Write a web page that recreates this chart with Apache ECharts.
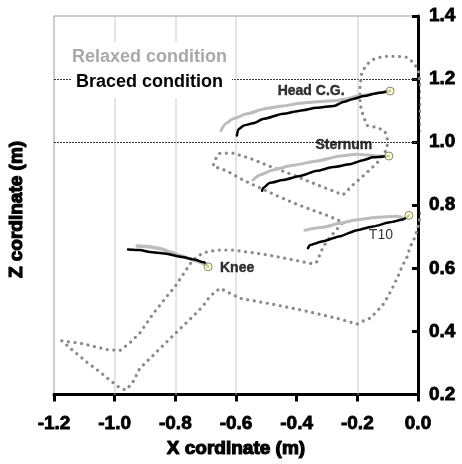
<!DOCTYPE html>
<html>
<head>
<meta charset="utf-8">
<script src="https://cdn.jsdelivr.net/npm/echarts@6/dist/echarts.min.js"></script>
<style>
html,body{margin:0;padding:0;background:#fff;}
#chart{width:462px;height:464px;}
</style>
</head>
<body>
<div id="chart"></div>
<script>
// ---- data ----
const xTicks = { min: -1.2, max: 0.0, interval: 0.2 };
const yTicks = { min: 0.2, max: 1.4, interval: 0.2 };
const hGridValues = [1.2, 1.0];
const vGridValues = [-1.0, -0.8, -0.6, -0.2];

const bodyOutline = [
[-1.174,0.370],[-1.105,0.361],[-1.025,0.342],[-0.983,0.339],[-0.950,0.364],[-0.917,0.395],[-0.874,0.455],[-0.828,0.511],[-0.801,0.542],[-0.775,0.580],[-0.742,0.627],[-0.709,0.649],[-0.663,0.658],[-0.610,0.658],[-0.498,0.643],[-0.412,0.627],[-0.346,0.614],[-0.333,0.621],[-0.313,0.668],[-0.290,0.699],[-0.247,0.746],
[-0.300,0.768],[-0.356,0.787],[-0.412,0.808],[-0.465,0.830],[-0.521,0.855],[-0.577,0.880],[-0.630,0.909],[-0.676,0.924],[-0.663,0.956],[-0.653,0.965],[-0.610,0.965],[-0.554,0.949],[-0.498,0.927],[-0.412,0.896],[-0.333,0.865],[-0.247,0.833],
[-0.214,0.865],[-0.181,0.893],[-0.135,0.934],[-0.105,0.974],[-0.099,1.003],[-0.109,1.034],[-0.132,1.046],[-0.168,1.053],[-0.181,1.084],[-0.191,1.121],[-0.191,1.178],[-0.185,1.222],[-0.168,1.247],[-0.148,1.262],[-0.115,1.272],[-0.069,1.272],[-0.036,1.269],[-0.016,1.253],[0.000,1.231],[0.007,1.190],[0.013,1.146],[0.007,1.096],[0.010,1.053],[0.016,1.012],[0.030,0.959],[0.042,0.909],[0.044,0.846],[0.032,0.815],[0.016,0.793],[0.007,0.762],[0.000,0.730],[-0.010,0.699],[-0.026,0.668],[-0.036,0.636],[-0.053,0.605],[-0.066,0.574],[-0.082,0.542],[-0.099,0.511],[-0.115,0.486],[-0.135,0.464],[-0.158,0.442],[-0.181,0.433],[-0.201,0.423],[-0.257,0.439],[-0.366,0.464],[-0.478,0.486],[-0.587,0.505],[-0.653,0.537],[-0.686,0.511],[-0.709,0.480],[-0.742,0.448],[-0.775,0.417],[-0.808,0.386],[-0.841,0.355],[-0.884,0.314],[-0.917,0.283],[-0.940,0.239],[-0.963,0.214],[-0.983,0.221],[-1.009,0.240],[-1.048,0.271],[-1.091,0.302],[-1.137,0.339],[-1.174,0.370]
];

const headRelaxed = [[-0.650,1.037],[-0.633,1.059],[-0.610,1.074],[-0.564,1.090],[-0.504,1.106],[-0.445,1.115],[-0.389,1.123],[-0.333,1.128],[-0.280,1.131],[-0.234,1.137],[-0.198,1.146],[-0.132,1.156],[-0.092,1.162]];
const headBraced = [[-0.597,1.021],[-0.593,1.040],[-0.574,1.053],[-0.544,1.060],[-0.508,1.074],[-0.445,1.090],[-0.389,1.100],[-0.333,1.109],[-0.277,1.115],[-0.244,1.128],[-0.214,1.137],[-0.178,1.146],[-0.132,1.156],[-0.092,1.162]];
const sternumRelaxed = [[-0.544,0.880],[-0.521,0.896],[-0.478,0.912],[-0.412,0.927],[-0.333,0.940],[-0.257,0.956],[-0.201,0.962],[-0.168,0.959],[-0.135,0.956],[-0.096,0.956]];
const sternumBraced = [[-0.514,0.846],[-0.511,0.855],[-0.488,0.871],[-0.445,0.880],[-0.389,0.893],[-0.333,0.909],[-0.280,0.921],[-0.224,0.930],[-0.181,0.943],[-0.148,0.952],[-0.096,0.956]];
const t10Relaxed = [[-0.373,0.721],[-0.313,0.730],[-0.257,0.743],[-0.201,0.754],[-0.135,0.762],[-0.069,0.765],[-0.043,0.758],[-0.030,0.768]];
const t10Braced = [[-0.363,0.664],[-0.356,0.674],[-0.313,0.686],[-0.257,0.702],[-0.201,0.721],[-0.148,0.733],[-0.092,0.746],[-0.049,0.755],[-0.036,0.762],[-0.030,0.768]];
const kneeRelaxed = [[-0.926,0.671],[-0.894,0.669],[-0.851,0.663],[-0.818,0.652],[-0.785,0.641],[-0.752,0.630],[-0.725,0.622],[-0.702,0.613],[-0.692,0.605]];
const kneeBraced = [[-0.956,0.660],[-0.917,0.658],[-0.884,0.652],[-0.835,0.647],[-0.778,0.636],[-0.735,0.627],[-0.706,0.619],[-0.692,0.605]];

const markerNames = ['Head C.G.', 'Sternum', 'T10', 'Knee'];
const markerPoints = [[-0.092,1.162],[-0.096,0.956],[-0.030,0.768],[-0.692,0.605]];

const legendLabels = ['Relaxed condition', 'Braced condition'];
const xTitle = 'X cordinate (m)';
const yTitle = 'Z cordinate (m)';

// ---- styles ----
const GRAY = '#bcbcbc';
const BLACK = '#000';
const FAMILY = '"Liberation Sans", Arial, sans-serif';
const tickFont = { fontFamily: FAMILY, fontWeight: 'bold', fontSize: 19, color: '#000', textBorderColor: '#000', textBorderWidth: 0.8 };
const labelOffsets = [[-79, 0], [-45, -11], [-28, 20], [29, 1]];
const labelWeights = ['bold', 'bold', 'normal', 'bold'];
const labelStroke = [0.4, 0.4, 0, 0.4];

const chart = echarts.init(document.getElementById('chart'), null, { renderer: 'canvas' });

function lineSeries(name, data, color, width, z) {
  return { name, type: 'line', data, symbol: 'none', smooth: 0.2, smoothMonotone: 'x', z,
    lineStyle: { color, width, cap: 'round', join: 'round' }, silent: true, animation: false };
}

const gridMarks = [];
hGridValues.forEach(v => gridMarks.push({ yAxis: v, lineStyle: { color: '#333', width: 1, type: [2, 1] } }));
vGridValues.forEach(v => gridMarks.push({ xAxis: v, lineStyle: { color: '#bdbdbd', width: 1.6, type: [1, 1] } }));

const option = {
  animation: false,
  backgroundColor: '#fff',
  grid: { left: 54, right: 44, top: 16, bottom: 65, show: true, borderColor: '#999', borderWidth: 1, backgroundColor: 'transparent' },
  xAxis: {
    type: 'value', min: xTicks.min, max: xTicks.max, interval: xTicks.interval, position: 'bottom',
    name: xTitle, nameLocation: 'middle', nameGap: 43,
    nameTextStyle: { fontFamily: FAMILY, fontWeight: 'bold', fontSize: 19, color: '#000', textBorderColor: '#000', textBorderWidth: 1.2 },
    axisLine: { show: true, onZero: false, lineStyle: { color: '#000', width: 3 } },
    axisTick: { show: true, inside: false, length: 7, lineStyle: { color: '#000', width: 3 } },
    axisLabel: Object.assign({ margin: 20, formatter: v => v.toFixed(1) }, tickFont),
    splitLine: { show: false }
  },
  yAxis: {
    type: 'value', min: yTicks.min, max: yTicks.max, interval: yTicks.interval, position: 'right',
    axisLine: { show: true, onZero: false, lineStyle: { color: '#000', width: 3 } },
    axisTick: { show: true, inside: true, length: 6, lineStyle: { color: '#000', width: 3 } },
    axisLabel: Object.assign({ margin: 11, formatter: v => v.toFixed(1) }, tickFont),
    splitLine: { show: false }
  },
  series: [
    {
      name: 'outline', type: 'line', data: bodyOutline, symbol: 'none', z: 2, clip: false, silent: true,
      lineStyle: { color: '#8a8a8a', width: 3.2, type: [0.01, 6.6], cap: 'round' },
      markLine: { silent: true, symbol: 'none', label: { show: false }, animation: false, z: 1, data: gridMarks }
    },
    lineSeries(legendLabels[0], headRelaxed, GRAY, 3, 3),
    lineSeries(legendLabels[0], sternumRelaxed, GRAY, 3, 3),
    lineSeries(legendLabels[0], t10Relaxed, GRAY, 3, 3),
    lineSeries(legendLabels[0], kneeRelaxed, GRAY, 3.5, 3),
    lineSeries(legendLabels[1], headBraced, BLACK, 2.5, 4),
    lineSeries(legendLabels[1], sternumBraced, BLACK, 2.5, 4),
    lineSeries(legendLabels[1], t10Braced, BLACK, 2.5, 4),
    lineSeries(legendLabels[1], kneeBraced, BLACK, 2.5, 4),
    {
      name: 'markers', type: 'scatter', z: 6, silent: true, clip: false,
      symbol: 'circle', symbolSize: 8,
      itemStyle: { color: '#ffffc0', borderColor: '#666', borderWidth: 1 },
      data: markerPoints.map((p, i) => ({
        value: p, name: markerNames[i],
        label: { show: true, formatter: markerNames[i], position: 'inside', offset: labelOffsets[i],
          fontFamily: FAMILY, fontSize: 14, fontWeight: labelWeights[i], color: '#000',
          textBorderWidth: labelStroke[i], textBorderColor: '#000' }
      }))
    }
  ],
  graphic: [
    { type: 'rect', z: 50, shape: { x: 72, y: 42, width: 160, height: 56 }, style: { fill: '#fff' }, silent: true },
    { type: 'text', z: 51, x: 72, y: 57, style: { text: legendLabels[0], font: 'bold 18px ' + FAMILY, fill: '#a9a9a9', textVerticalAlign: 'middle', verticalAlign: 'middle' } },
    { type: 'text', z: 51, x: 76, y: 82, style: { text: legendLabels[1], font: 'bold 18px ' + FAMILY, fill: '#000', textVerticalAlign: 'middle', verticalAlign: 'middle' } },
    { type: 'text', z: 51, x: 16.5, y: 209.5, rotation: Math.PI / 2,
      style: { text: yTitle, font: 'bold 19px ' + FAMILY, fill: '#000', stroke: '#000', lineWidth: 1.2,
        textAlign: 'center', align: 'center', textVerticalAlign: 'middle', verticalAlign: 'middle' } }
  ]
};
chart.setOption(option);
</script>
</body>
</html>
